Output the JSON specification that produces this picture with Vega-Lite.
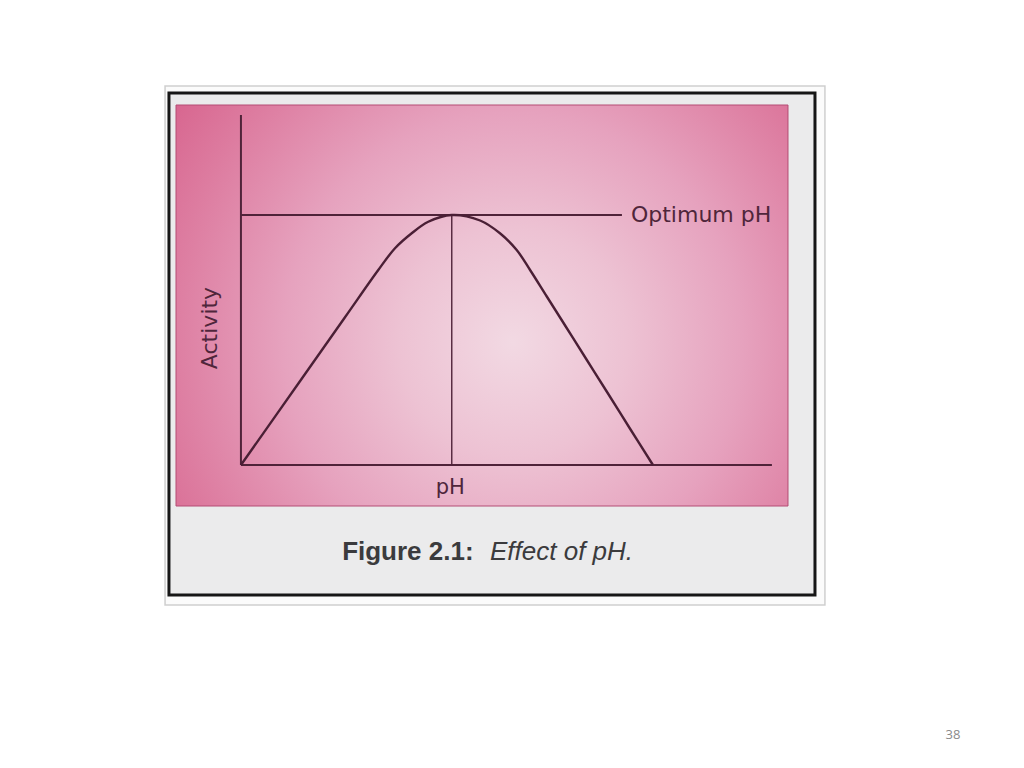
{
  "$schema": "https://vega.github.io/schema/vega-lite/v6.json",
  "autosize": {"type": "fit", "contains": "padding"},
  "width": 1024,
  "height": 768,
  "padding": 0,
  "background": "#ffffff",
  "config": {"view": {"stroke": null}},
  "datasets": {
    "page": [{"x": -2.52, "x2": 19.39, "y": 151.6, "y2": -56}],
    "frame": [{"x": -2.39, "x2": 19.06, "y": 148.8, "y2": -52}],
    "panel": [{"x": -2.156, "x2": 18.164, "y": 144, "y2": -16.4}],
    "curve": [
      {"ph": 0.0, "activity": 0},
      {"ph": 2.0, "activity": 34.2},
      {"ph": 3.455, "activity": 59.1},
      {"ph": 4.56, "activity": 78},
      {"ph": 5.115, "activity": 86.7},
      {"ph": 5.67, "activity": 92.7},
      {"ph": 6.22, "activity": 97.3},
      {"ph": 7.0, "activity": 100},
      {"ph": 7.94, "activity": 97.8},
      {"ph": 8.6, "activity": 92.7},
      {"ph": 9.156, "activity": 86},
      {"ph": 9.6, "activity": 78},
      {"ph": 10.15, "activity": 67.5},
      {"ph": 10.816, "activity": 54.8},
      {"ph": 11.48, "activity": 42.1},
      {"ph": 12.14, "activity": 29.5},
      {"ph": 12.92, "activity": 14.5},
      {"ph": 13.68, "activity": 0}
    ],
    "lines": [
      {"name": "activity axis", "x": 0, "x2": 0, "y": 0, "y2": 140, "w": 2},
      {"name": "pH axis", "x": 0, "x2": 17.63, "y": 0, "y2": 0, "w": 2.2},
      {"name": "optimum", "x": 0, "x2": 12.65, "y": 100, "y2": 100, "w": 2},
      {"name": "optimum drop", "x": 7, "x2": 7, "y": 0, "y2": 100, "w": 1.4}
    ]
  },
  "encoding": {
    "x": {"field": "x", "type": "quantitative", "axis": null, "scale": {"domain": [-8, 26], "nice": false, "zero": false}},
    "y": {"field": "y", "type": "quantitative", "axis": null, "scale": {"domain": [-121.2, 186], "nice": false, "zero": false}}
  },
  "layer": [
    {
      "data": {"name": "page"},
      "mark": {"type": "rect", "fill": "#fbfbfb", "stroke": "#cfcfcf", "strokeWidth": 1.5},
      "encoding": {"x2": {"field": "x2"}, "y2": {"field": "y2"}}
    },
    {
      "data": {"name": "frame"},
      "mark": {"type": "rect", "fill": "#ebebec", "stroke": "#161616", "strokeWidth": 3},
      "encoding": {"x2": {"field": "x2"}, "y2": {"field": "y2"}}
    },
    {
      "data": {"name": "panel"},
      "mark": {
        "type": "rect",
        "stroke": "#b44c74",
        "strokeWidth": 1,
        "fill": {
          "gradient": "radial",
          "x1": 0.55, "y1": 0.56, "r1": 0,
          "x2": 0.55, "y2": 0.56, "r2": 0.75,
          "stops": [
            {"offset": 0, "color": "#f2d9e3"},
            {"offset": 0.25, "color": "#edc2d3"},
            {"offset": 0.5, "color": "#e6a2be"},
            {"offset": 0.75, "color": "#dd7ca0"},
            {"offset": 1, "color": "#d45784"}
          ]
        }
      },
      "encoding": {"x2": {"field": "x2"}, "y2": {"field": "y2"}}
    },
    {
      "data": {"name": "lines"},
      "mark": {"type": "rule", "color": "#4f2339"},
      "encoding": {
        "x2": {"field": "x2"},
        "y2": {"field": "y2"},
        "strokeWidth": {"field": "w", "type": "quantitative", "scale": null}
      }
    },
    {
      "data": {"name": "curve"},
      "mark": {"type": "line", "interpolate": "catmull-rom", "color": "#4a1f35", "strokeWidth": 2.4},
      "encoding": {
        "x": {"field": "ph", "type": "quantitative", "axis": null, "scale": {"domain": [-8, 26], "nice": false, "zero": false}},
        "y": {"field": "activity", "type": "quantitative", "axis": null, "scale": {"domain": [-121.2, 186], "nice": false, "zero": false}}
      }
    },
    {
      "data": {"values": [{"label": "Optimum pH", "x": 12.95, "y": 97.2}]},
      "mark": {"type": "text", "font": "DejaVu Sans", "fontSize": 22, "align": "left", "baseline": "alphabetic", "color": "#4f263b"},
      "encoding": {"text": {"field": "label"}}
    },
    {
      "data": {"values": [{"label": "pH", "x": 6.95, "y": -11.6}]},
      "mark": {"type": "text", "font": "DejaVu Sans", "fontSize": 21, "align": "center", "baseline": "alphabetic", "color": "#4f263b"},
      "encoding": {"text": {"field": "label"}}
    },
    {
      "data": {"values": [{"label": "Activity", "x": -0.8, "y": 54.8}]},
      "mark": {"type": "text", "font": "DejaVu Sans", "fontSize": 22, "angle": 270, "align": "center", "baseline": "alphabetic", "color": "#4f263b"},
      "encoding": {"text": {"field": "label"}}
    },
    {
      "data": {"values": [{"label": "Figure 2.1:", "x": 3.36, "y": -38}]},
      "mark": {"type": "text", "font": "Liberation Sans", "fontSize": 26, "fontWeight": "bold", "align": "left", "baseline": "alphabetic", "color": "#3b3b3d"},
      "encoding": {"text": {"field": "label"}}
    },
    {
      "data": {"values": [{"label": "Effect of pH.", "x": 8.27, "y": -38}]},
      "mark": {"type": "text", "font": "Liberation Sans", "fontSize": 26, "fontStyle": "italic", "align": "left", "baseline": "alphabetic", "color": "#3b3b3d"},
      "encoding": {"text": {"field": "label"}}
    },
    {
      "data": {"values": [{"label": "38", "x": 23.64, "y": -109.6}]},
      "mark": {"type": "text", "font": "Open Sans", "fontSize": 13, "align": "center", "baseline": "alphabetic", "color": "#8a8a8a"},
      "encoding": {"text": {"field": "label"}}
    }
  ]
}
